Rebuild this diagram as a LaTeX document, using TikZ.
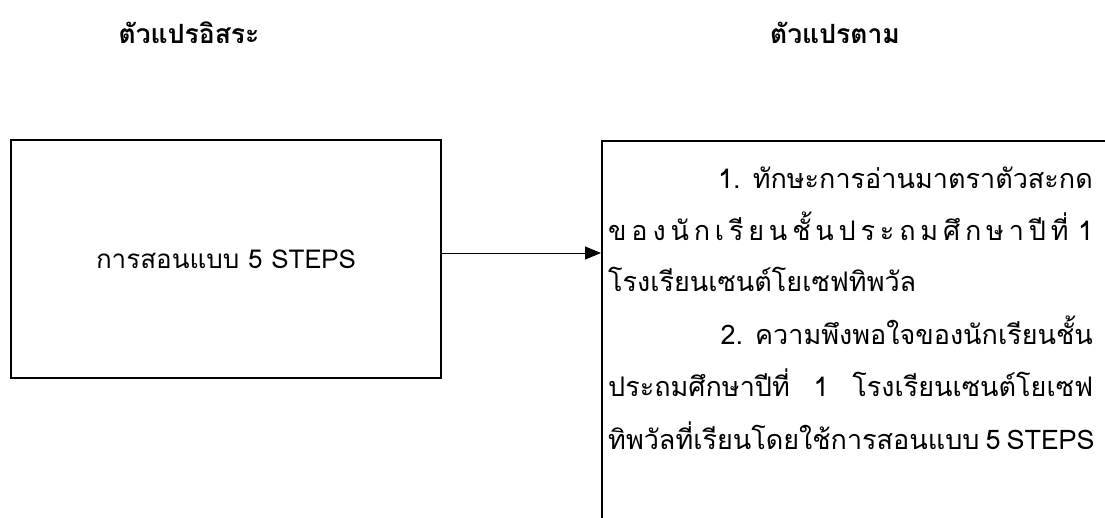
\documentclass[tikz,border=0pt]{standalone}
\usepackage{fontspec}
\setmainfont[Script=Thai]{Loma}
\usetikzlibrary{positioning,arrows.meta}

\begin{document}
\begin{tikzpicture}[x=1pt,y=-1pt,
  box/.style={draw,line width=2pt,rectangle,inner sep=0pt},
  head/.style={font=\bfseries\fontsize{26.5}{32}\selectfont},
  txt/.style={font=\fontsize{27}{32}\selectfont,inner sep=0pt}]
\clip (0,0) rectangle (1105,517);
\fill[white] (0,0) rectangle (1105,517);
% headings
\node[head] (indep) at (189,33) {ตัวแปรอิสระ};
\node[head] (dep) at (835,33) {ตัวแปรตาม};
% boxes
\node[box,txt,font=\fontsize{26}{32}\selectfont,minimum width=430pt,minimum height=238pt,anchor=north west] (teach) at (10,139) {การสอนแบบ 5 STEPS};
\node[box,minimum width=520pt,minimum height=420pt,anchor=north west] (result) at (601,140) {};
\draw[line width=1pt,-{Triangle[length=16pt,width=13pt]}] ([yshift=6pt]teach.east) -- ([yshift=6pt]teach.east -| result.west);
% text of the right box
\node[txt,anchor=base east] (l1) at (1093,188) {1. ทักษะการอ่านมาตราตัวสะกด};
\node[txt,anchor=base west] (l2) at (608,240) {\makebox[485pt][s]{ข\hfil อ\hfil ง\hfil นั\hfil ก\hfil เ\hfil รี\hfil ย\hfil น\hfil ชั้\hfil น\hfil ป\hfil ร\hfil ะ\hfil ถ\hfil ม\hfil ศึ\hfil ก\hfil ษ\hfil า\hfil ปี\hfil ที่\hfil\hfil 1}};
\node[txt,anchor=base west] (l3) at (608,291) {โรงเรียนเซนต์โยเซฟทิพวัล};
\node[txt,anchor=base east] (l4) at (1093,344) {2. ความพึงพอใจของนักเรียนชั้น};
\node[txt,anchor=base west] (l5) at (608,396) {\makebox[485pt][s]{ประถมศึกษาปีที่ 1 โรงเรียนเซนต์โยเซฟ}};
\node[txt,anchor=base west] (l6) at (608,449) {\makebox[485pt][s]{ทิพวัลที่เรียนโดยใช้การสอนแบบ 5 STEPS}};
\end{tikzpicture}
\end{document}
